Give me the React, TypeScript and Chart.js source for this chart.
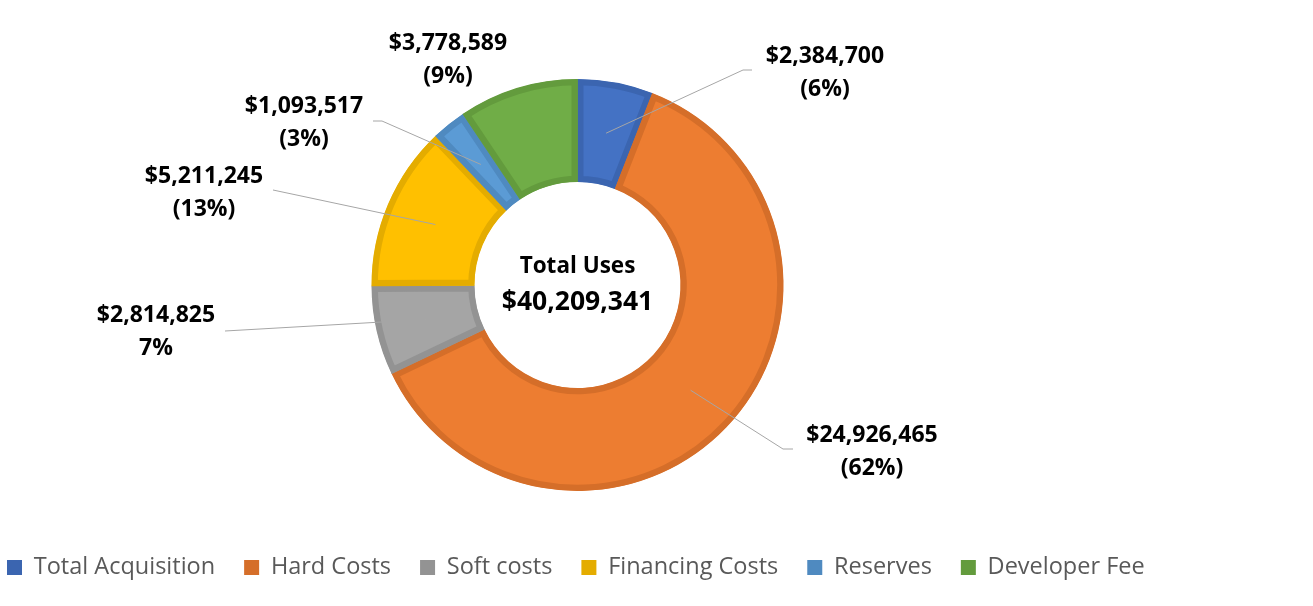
import React, { useEffect, useRef } from "react";
import { Chart, registerables } from "chart.js";

Chart.register(...registerables);

// ---- data ----
const categories = [
  "Total Acquisition",
  "Hard Costs",
  "Soft costs",
  "Financing Costs",
  "Reserves",
  "Developer Fee",
];
const values = [2384700, 24926465, 2814825, 5211245, 1093517, 3778589];
const valueLabels = ["$2,384,700", "$24,926,465", "$2,814,825", "$5,211,245", "$1,093,517", "$3,778,589"];
const percentLabels = ["(6%)", "(62%)", "7%", "(13%)", "(3%)", "(9%)"];
const centerTitle = "Total Uses";
const centerValue = "$40,209,341";

// ---- styles ----
const fillColors = ["#4472C4", "#ED7D31", "#A5A5A5", "#FFC000", "#5B9BD5", "#70AD47"];
const edgeColors = ["#3B65B0", "#D56E29", "#939393", "#E4AC00", "#4F8AC0", "#639B3D"];

// label centre offsets from the doughnut centre (px)
const labelOffsets: [number, number][] = [
  [247.5, -212.5],
  [294.5, 167],
  [-421.5, 47],
  [-373.5, -92],
  [-273.5, -162],
  [-129.5, -225],
];
// leader line bend points relative to doughnut centre
const leaderPaths: [number, number][][] = [
  [[165.5, -215], [174.5, -215]],
  [[205.5, 164], [215.5, 164]],
  [[-352.5, 46]],
  [[-304.5, -95]],
  [[-195.5, -164], [-204.5, -164]],
  [],
];

const FONT = '"Open Sans", "Noto Sans", sans-serif';
const LEG_FS = 23.5;
const LEG_PAD = 29;
const SHIFT = LEG_PAD - 7; // canvas shifted left so first legend box sits at x=7

const labelPlugin = {
  id: "donutLabels",
  afterDatasetsDraw(chart: any) {
    const ctx = chart.ctx as CanvasRenderingContext2D;
    const meta = chart.getDatasetMeta(0);
    if (!meta || !meta.data.length) return;
    const first = meta.data[0].getProps(["x", "y"], true);
    const cx = first.x;
    const cy = first.y;
    ctx.save();
    meta.data.forEach((arc: any, i: number) => {
      const p = arc.getProps(["x", "y", "startAngle", "endAngle", "innerRadius", "outerRadius"], true);
      const mid = (p.startAngle + p.endAngle) / 2;
      const r = (p.innerRadius + p.outerRadius) / 2;
      const sx = p.x + Math.cos(mid) * r;
      const sy = p.y + Math.sin(mid) * r;
      const path = leaderPaths[i];
      if (path.length) {
        ctx.beginPath();
        ctx.strokeStyle = "#A6A6A6";
        ctx.lineWidth = 1;
        ctx.moveTo(sx, sy);
        path.forEach(([dx, dy]) => ctx.lineTo(cx + dx, cy + dy));
        ctx.stroke();
      }
      const [ox, oy] = labelOffsets[i];
      ctx.fillStyle = "#000000";
      ctx.font = `bold 23px ${FONT}`;
      ctx.textAlign = "center";
      ctx.textBaseline = "middle";
      ctx.fillText(valueLabels[i], cx + ox, cy + oy - 16.5);
      ctx.fillText(percentLabels[i], cx + ox, cy + oy + 16.5);
    });
    ctx.fillStyle = "#000000";
    ctx.textAlign = "center";
    ctx.textBaseline = "middle";
    ctx.font = `bold 22.5px ${FONT}`;
    ctx.fillText(centerTitle, cx, cy - 18);
    ctx.font = `bold 26.5px ${FONT}`;
    ctx.fillText(centerValue, cx, cy + 17);
    ctx.restore();
  },
};

export default function App() {
  const canvasRef = useRef<HTMLCanvasElement | null>(null);

  useEffect(() => {
    if (!canvasRef.current) return;
    const chart = new Chart(canvasRef.current, {
      type: "doughnut",
      data: {
        labels: categories,
        datasets: [
          {
            data: values,
            backgroundColor: fillColors,
            borderColor: edgeColors,
            borderWidth: 6,
            borderAlign: "inner",
            hoverOffset: 0,
          } as any,
        ],
      },
      options: {
        animation: false,
        responsive: true,
        maintainAspectRatio: false,
        radius: 206,
        cutout: "50%",
        layout: {
          padding: { top: 43.25, bottom: 16.75, left: 0, right: 1313 + SHIFT - 2 * (577.5 + SHIFT) },
        },
        plugins: {
          tooltip: { enabled: false },
          legend: {
            display: true,
            position: "bottom",
            align: "start",
            labels: {
              boxWidth: 15,
              boxHeight: 15,
              padding: LEG_PAD,
              color: "#595959",
              font: { family: FONT, size: LEG_FS },
              generateLabels: () =>
                categories.map((c, i) => ({
                  text: c,
                  fillStyle: edgeColors[i],
                  strokeStyle: edgeColors[i],
                  lineWidth: 0,
                  hidden: false,
                  index: i,
                  fontColor: "#595959",
                })),
            },
          },
        },
      } as any,
      plugins: [labelPlugin],
    });
    return () => chart.destroy();
  }, []);

  return (
    <div style={{ position: "fixed", left: 0, top: 0, width: 1313, height: 606, overflow: "hidden", background: "#ffffff" }}>
      <div style={{ position: "absolute", left: -SHIFT, top: 0, width: 1313 + SHIFT, height: 606 }}>
        <canvas ref={canvasRef} />
      </div>
    </div>
  );
}
